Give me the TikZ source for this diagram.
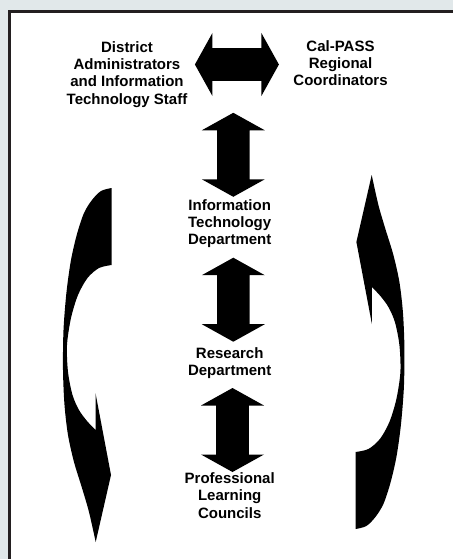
\documentclass[tikz,border=0pt]{standalone}
\usepackage{fontspec}
\setmainfont{Liberation Sans}
\usepackage{xcolor}
\definecolor{cPage}{RGB}{225, 232, 234}
\definecolor{bFrame}{RGB}{35, 31, 32}
\definecolor{tDark}{RGB}{0, 0, 0}

\begin{document}
\begin{tikzpicture}[
    x=1pt, y=-1pt,
    font=\fontsize{15}{17.4}\selectfont\bfseries,
    txt/.style={
        align=center,
        anchor=north,
        inner sep=0pt,
        text=tDark
    },
    twoway/.pic={
        \fill[tDark] (-42,0) -- (-24.5,-31.5) -- (-24.5,-16.3) -- (24.5,-16.3)
            -- (24.5,-31.5) -- (42,0) -- (24.5,31.5) -- (24.5,16.3)
            -- (-24.5,16.3) -- (-24.5,31.5) -- cycle;
    },
    swoop/.pic={
        \fill[tDark] (111.7,188) -- (111.7,265)
            -- plot[smooth] coordinates {(111.7,265) (99,268) (87.5,278) (78,295)
                (71,318) (67,345) (68,372) (72.5,395) (79,410) (87,421) (95.5,430)}
            -- (95.5,393) -- (111,475) -- (95.7,542)
            -- plot[smooth] coordinates {(95.7,542) (89,512) (82,488) (74,462)
                (68,435) (64.5,405) (63,370) (63.5,330) (66.5,292) (71,260)
                (77,234) (84,213) (92,200) (101,191) (111.7,188)}
            -- cycle;
    }
]

\useasboundingbox (0,0) rectangle (453,559);

% page and frame
\fill[cPage] (0,0) rectangle (453,559);
\fill[white] (8,10) rectangle (453,559);
\draw[bFrame, line width=3pt] (9.5,559) -- (9.5,11.5) -- (453,11.5);

% top row
\node[txt] (district) at (127,41) {District\\Administrators\\and Information\\Technology Staff};
\node[txt] (calpass) at (340.5,40) {Cal-PASS\\Regional\\Coordinators};

% middle column
\node[txt] (itdept) at (229.7,199) {Information\\Technology\\Department};
\node[txt] (research) at (229.7,347) {Research\\Department};
\node[txt] (plc) at (229.7,472.5) {Professional\\Learning\\Councils};

% two-way block arrows
\pic at (236.9,64.5) {twoway};
\pic[rotate=90] at (233.3,154.8) {twoway};
\pic[rotate=90] at (233.3,299.7) {twoway};
\pic[rotate=90] at (232.5,430) {twoway};

% curved side arrows
\pic {swoop};
\pic[rotate around={180:(233.7,358.5)}] {swoop};

\end{tikzpicture}
\end{document}
